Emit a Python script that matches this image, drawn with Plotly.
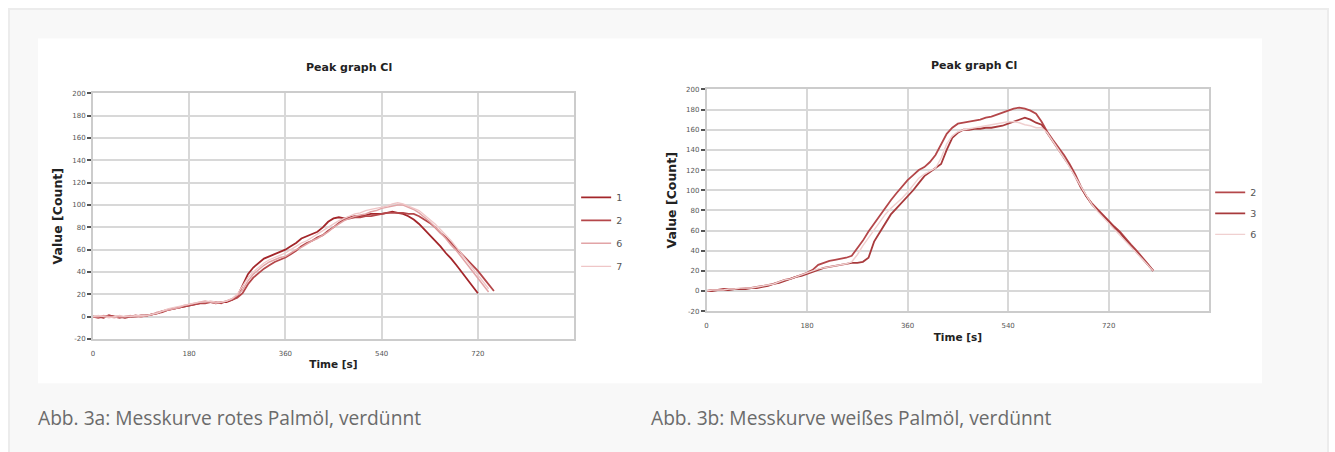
import plotly.graph_objects as go

W, H = 1335, 452

# ---------------- data: left chart (rotes Palmöl) ----------------
left_names = ["1", "2", "6", "7"]
left_t1 = list(range(0, 730, 10))
left_v1 = [0, 0, -1, 1, 0, 0, -1, 0, 0, 1,
           1, 2, 3, 5, 6, 7, 8, 9, 10, 11,
           12, 13, 13, 12, 13, 13, 15, 18, 28, 38,
           44, 48, 52, 54, 56, 58, 60, 63, 66, 70,
           72, 74, 76, 80, 85, 88, 89, 88, 89, 90,
           90, 91, 92, 92, 92, 93, 94, 93, 92, 90,
           87, 83, 78, 73, 68, 63, 57, 52, 46, 40,
           34, 27, 21]
left_t2 = list(range(0, 760, 10))
left_v2 = [0, -1, 0, 1, 0, -1, 0, 0, 1, 0,
           1, 2, 3, 4, 6, 7, 8, 9, 10, 11,
           12, 12, 13, 13, 12, 14, 15, 17, 21, 29,
           35, 39, 43, 46, 49, 51, 53, 56, 59, 63,
           66, 68, 71, 73, 77, 80, 84, 87, 88, 89,
           89, 90, 90, 91, 92, 93, 93, 93, 93, 92,
           92, 90, 87, 84, 80, 75, 71, 66, 61, 56,
           51, 46, 41, 35, 29, 23]
left_t6 = list(range(0, 750, 10))
left_v6 = [0, 0, 1, 0, -1, 0, 0, 1, 0, 0,
           1, 2, 4, 5, 6, 7, 8, 10, 11, 12,
           13, 14, 13, 12, 13, 14, 16, 19, 24, 32,
           38, 42, 46, 49, 51, 53, 54, 57, 60, 62,
           65, 68, 70, 73, 76, 80, 83, 86, 88, 90,
           91, 92, 94, 95, 97, 98, 99, 100, 100, 98,
           96, 93, 89, 85, 80, 75, 70, 64, 59, 53,
           47, 41, 35, 28, 22]
left_t7 = list(range(0, 750, 10))
left_v7 = [0, 1, 0, -1, 0, 1, 0, 0, 1, 1,
           1, 2, 3, 5, 7, 8, 9, 10, 11, 12,
           13, 13, 14, 13, 13, 14, 16, 20, 27, 35,
           40, 44, 48, 51, 53, 55, 57, 60, 63, 66,
           68, 71, 74, 77, 80, 83, 86, 88, 90, 92,
           93, 95, 96, 97, 98, 99, 101, 102, 101, 99,
           97, 95, 91, 87, 83, 78, 73, 68, 62, 56,
           50, 44, 38, 31, 25]

# ---------------- data: right chart (weißes Palmöl) ----------------
right_names = ["2", "3", "6"]
right_t = list(range(0, 810, 10))
right_v2 = [0, 1, 1, 2, 2, 2, 2, 3, 3, 4,
            5, 6, 7, 9, 11, 12, 14, 16, 18, 21,
            26, 28, 30, 31, 32, 33, 35, 42, 50, 59,
            67, 75, 82, 90, 97, 104, 110, 115, 120, 123,
            128, 135, 146, 156, 162, 166, 167, 168, 169, 170,
            172, 173, 175, 177, 179, 181, 182, 181, 179, 176,
            168, 158, 150, 143, 135, 126, 116, 104, 94, 87,
            81, 76, 70, 64, 59, 52, 46, 40, 34, 27,
            20]
right_v3 = [0, 0, 1, 1, 1, 2, 2, 2, 3, 3,
            4, 5, 7, 8, 10, 12, 14, 15, 17, 19,
            21, 23, 24, 25, 26, 27, 28, 28, 29, 33,
            49, 58, 67, 76, 82, 88, 93, 100, 107, 114,
            118, 122, 126, 140, 152, 157, 160, 160, 161, 161,
            162, 162, 163, 164, 166, 168, 170, 172, 170, 167,
            165, 157, 149, 141, 133, 124, 114, 103, 94, 86,
            80, 75, 69, 63, 58, 51, 45, 39, 33, 26,
            20]
right_v6 = [0, 1, 1, 1, 2, 2, 3, 3, 3, 4,
            5, 6, 7, 9, 11, 12, 14, 16, 18, 20,
            22, 23, 24, 25, 26, 27, 29, 36, 45, 53,
            61, 69, 76, 82, 87, 92, 98, 105, 112, 116,
            119, 122, 132, 146, 154, 158, 160, 161, 162, 163,
            164, 165, 166, 167, 168, 168, 167, 165, 164, 162,
            162, 157, 149, 141, 132, 123, 113, 104, 95, 86,
            79, 73, 67, 62, 56, 50, 44, 38, 32, 25,
            20]

x_ticks = [0, 180, 360, 540, 720]
y_ticks = [-20, 0, 20, 40, 60, 80, 100, 120, 140, 160, 180, 200]
y_tick_labels = ["-20", "0", "20", "40", "60", "80", "100", "120", "140", "160", "180", "200"]
chart_title = "Peak graph Cl"
x_title = "Time [s]"
y_title = "Value [Count]"
captions = ["Abb. 3a: Messkurve rotes Palmöl, verdünnt",
            "Abb. 3b: Messkurve weißes Palmöl, verdünnt"]

left_colors = ["#a3262a", "#b5474a", "#e2a4a6", "#efc6c7"]
left_widths = [1.8, 1.8, 1.5, 1.3]
right_colors = ["#b4474a", "#a83a3c", "#f0d0d0"]
right_widths = [1.8, 1.8, 1.4]

fig = go.Figure()
left_series = [(left_t1, left_v1), (left_t2, left_v2), (left_t6, left_v6), (left_t7, left_v7)]
for i, (t, v) in enumerate(left_series):
    fig.add_trace(go.Scatter(x=t, y=v, mode="lines", name=left_names[i],
                             line=dict(color=left_colors[i], width=left_widths[i]),
                             xaxis="x", yaxis="y", legend="legend",
                             legendgroup="L" + left_names[i]))
right_series = [right_v2, right_v3, right_v6]
for i, v in enumerate(right_series):
    fig.add_trace(go.Scatter(x=right_t, y=v, mode="lines", name=right_names[i],
                             line=dict(color=right_colors[i], width=right_widths[i]),
                             xaxis="x2", yaxis="y2", legend="legend2",
                             legendgroup="R" + right_names[i]))

def fx(px):
    return px / W

def fy(py):
    return 1 - py / H

tickfont = dict(family="DejaVu Sans", size=7, color="#555555")
titlefont = dict(family="DejaVu Sans", size=11, color="#222222")
xtitlefont = dict(family="DejaVu Sans", size=10.5, color="#222222")
ytitlefont = dict(family="DejaVu Sans", size=12.5, color="#222222")
grid = "#d8d8d8"

def xaxis(domain, anchor):
    return dict(domain=domain, anchor=anchor, range=[0, 900], tickvals=x_ticks,
                showgrid=True, gridcolor=grid, gridwidth=1.5, zeroline=False,
                showline=True, linecolor="#cccccc", linewidth=1.5, mirror=True,
                ticks="outside", ticklen=7, tickcolor="rgba(0,0,0,0)",
                tickfont=tickfont,
                title=dict(text="<b>" + x_title + "</b>", font=xtitlefont, standoff=4))

def yaxis(domain, anchor):
    return dict(domain=domain, anchor=anchor, range=[-20, 200],
                tickvals=y_ticks, ticktext=y_tick_labels,
                showgrid=True, gridcolor=grid, gridwidth=1.5, zeroline=False,
                showline=True, linecolor="#cccccc", linewidth=1.5, mirror=True,
                ticks="outside", ticklen=4, tickwidth=1.5, tickcolor="#555555",
                tickfont=tickfont,
                title=dict(text="<b>" + y_title + "</b>", font=ytitlefont, standoff=7))

shapes = [
    dict(type="rect", xref="paper", yref="paper", x0=fx(7), x1=fx(1328), y0=fy(470), y1=fy(5),
         fillcolor="#f8f8f8", line=dict(color="#ececec", width=2), layer="below"),
    dict(type="rect", xref="paper", yref="paper", x0=fx(36), x1=fx(1262), y0=fy(386), y1=fy(35),
         fillcolor="#ffffff", line=dict(width=0), layer="below"),
]

capfont = dict(family="Open Sans", size=19.2, color="#6b6b6b")
annotations = [
    dict(text="<b>" + chart_title + "</b>", x=fx(348), y=fy(65), xref="paper", yref="paper",
         showarrow=False, xanchor="center", yanchor="middle", font=titlefont),
    dict(text="<b>" + chart_title + "</b>", x=fx(973), y=fy(63), xref="paper", yref="paper",
         showarrow=False, xanchor="center", yanchor="middle", font=titlefont),
    dict(text=captions[0], x=fx(34), y=fy(421), xref="paper", yref="paper",
         showarrow=False, xanchor="left", yanchor="middle", font=capfont),
    dict(text=captions[1], x=fx(648), y=fy(421), xref="paper", yref="paper",
         showarrow=False, xanchor="left", yanchor="middle", font=capfont),
]

legfont = dict(family="DejaVu Sans", size=9.5, color="#555555")

fig.update_layout(
    width=W, height=H,
    margin=dict(l=0, r=0, t=0, b=0),
    paper_bgcolor="#ffffff",
    plot_bgcolor="rgba(0,0,0,0)",
    xaxis=xaxis([fx(91), fx(573)], "y"),
    yaxis=yaxis([fy(341), fy(91)], "x"),
    xaxis2=xaxis([fx(705.6), fx(1209)], "y2"),
    yaxis2=yaxis([fy(312.7), fy(87)], "x2"),
    legend=dict(x=fx(575), y=fy(182), xanchor="left", yanchor="top", font=legfont,
                bgcolor="rgba(0,0,0,0)", tracegroupgap=4, itemwidth=30),
    legend2=dict(x=fx(1210), y=fy(177), xanchor="left", yanchor="top", font=legfont,
                 bgcolor="rgba(0,0,0,0)", tracegroupgap=2, itemwidth=30),
    shapes=shapes,
    annotations=annotations,
    showlegend=True,
)

fig.write_html("out.html")
